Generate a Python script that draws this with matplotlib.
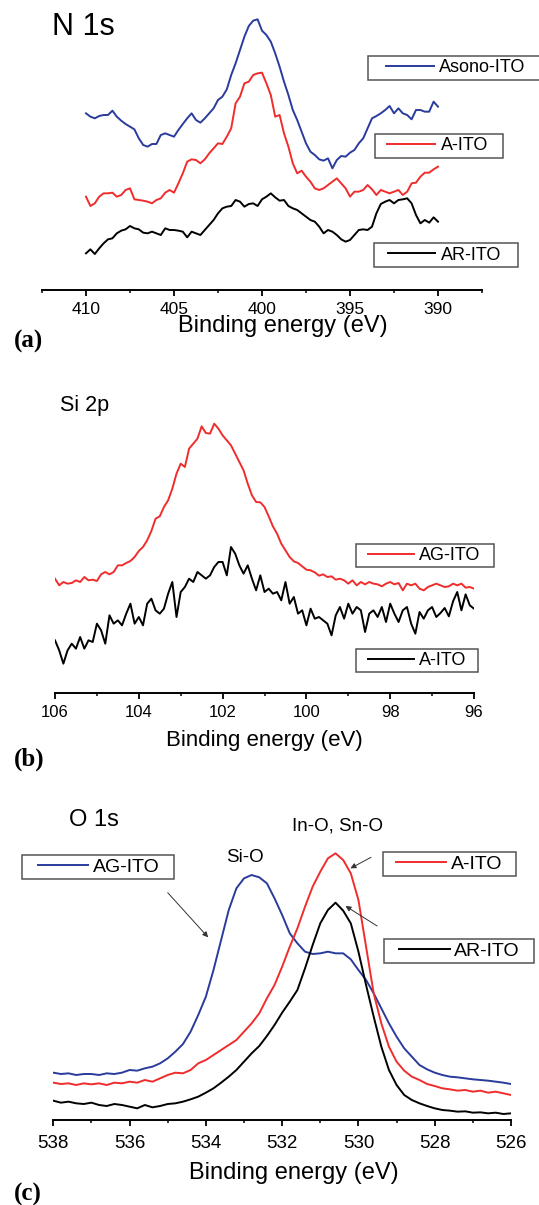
import numpy as np
import matplotlib
matplotlib.use("Agg")
import matplotlib.pyplot as plt
from matplotlib.legend import Legend
from matplotlib.legend_handler import HandlerLine2D

plt.rcParams["font.family"] = ["Liberation Sans", "DejaVu Sans"]

W, H = 539, 1205

# =========================
# Data (XPS intensities, arbitrary units, curves offset as in the figure)
# =========================
n1s_energy = np.linspace(410, 390, 81)
n1s_asono = [530, 520, 515, 522, 525, 525, 538, 520, 508, 498,
             490, 482, 455, 435, 430, 438, 438, 465, 470, 465,
             460, 480, 498, 515, 530, 510, 502, 515, 530, 545,
             570, 580, 602, 645, 680, 720, 760, 792, 808, 812,
             778, 765, 745, 710, 670, 625, 585, 540, 510, 475,
             440, 415, 405, 392, 388, 395, 365, 390, 402, 400,
             412, 420, 440, 455, 485, 515, 522, 530, 540, 552,
             530, 545, 530, 525, 512, 540, 540, 535, 535, 565, 550]
n1s_a = [280, 252, 260, 280, 290, 290, 292, 280, 285, 300,
         305, 272, 270, 268, 265, 260, 270, 275, 292, 300,
         292, 320, 350, 385, 392, 390, 380, 392, 410, 425,
         440, 438, 460, 485, 560, 580, 620, 625, 645, 650,
         652, 620, 585, 520, 525, 470, 430, 380, 350, 358,
         340, 325, 305, 300, 305, 315, 325, 335, 320, 305,
         280, 295, 295, 300, 315, 302, 285, 300, 295, 290,
         295, 300, 285, 295, 320, 322, 340, 352, 352, 362, 370]
n1s_ar = [110, 122, 108, 125, 140, 152, 155, 170, 178, 182,
          192, 185, 182, 172, 170, 175, 170, 165, 185, 180,
          180, 178, 175, 158, 175, 170, 165, 180, 195, 210,
          230, 245, 250, 252, 270, 265, 250, 258, 260, 252,
          272, 280, 290, 278, 268, 270, 252, 245, 240, 230,
          220, 210, 205, 190, 170, 180, 175, 165, 152, 145,
          150, 165, 180, 182, 180, 190, 230, 258, 265, 270,
          260, 270, 272, 275, 260, 225, 200, 210, 202, 218, 205]

si2p_energy = np.linspace(106, 96, 101)
si2p_ag = [343, 323, 333, 328, 330, 338, 333, 348, 338, 340,
           336, 356, 363, 356, 363, 383, 383, 390, 396, 408,
           426, 438, 458, 486, 523, 530, 558, 578, 613, 658,
           688, 678, 733, 748, 763, 800, 780, 778, 808, 793,
           773, 758, 743, 718, 693, 668, 628, 593, 573, 572,
           558, 530, 500, 478, 448, 428, 408, 395, 390, 380,
           370, 368, 362, 352, 356, 348, 350, 340, 343, 338,
           328, 338, 323, 333, 326, 333, 328, 326, 320, 328,
           333, 326, 330, 308, 328, 323, 328, 313, 308, 318,
           323, 328, 323, 318, 320, 328, 323, 328, 316, 318, 313]
si2p_a = [158, 128, 88, 128, 148, 133, 168, 133, 158, 153,
          208, 188, 148, 233, 208, 218, 203, 238, 268, 208,
          228, 203, 268, 283, 248, 238, 253, 298, 333, 228,
          303, 318, 343, 333, 363, 353, 343, 353, 378, 393,
          393, 353, 438, 418, 383, 358, 383, 343, 308, 353,
          303, 313, 298, 303, 278, 333, 268, 288, 238, 248,
          203, 253, 223, 228, 218, 208, 173, 233, 258, 223,
          268, 238, 258, 248, 183, 238, 248, 228, 258, 213,
          268, 238, 213, 248, 258, 208, 178, 243, 223, 248,
          258, 228, 240, 255, 230, 275, 303, 248, 296, 263, 253]

o1s_energy = np.linspace(538, 526, 61)
o1s_ag = [142, 138, 140, 135, 138, 138, 135, 140, 138, 142,
          150, 148, 155, 160, 170, 185, 205, 228, 265, 315,
          370, 450, 540, 630, 695, 725, 735, 728, 710, 665,
          615, 560, 530, 505, 498, 500, 505, 500, 500, 482,
          450, 420, 380, 335, 290, 250, 215, 190, 165, 152,
          142, 135, 130, 128, 125, 122, 120, 118, 115, 112, 108]
o1s_a = [112, 108, 110, 105, 110, 107, 110, 105, 112, 110,
         115, 112, 120, 115, 125, 135, 142, 140, 150, 170,
         180, 195, 210, 225, 240, 265, 290, 320, 365, 405,
         460, 520, 575, 640, 700, 745, 785, 800, 780, 740,
         660, 520, 380, 290, 220, 175, 148, 130, 120, 108,
         102, 95, 92, 88, 90, 85, 88, 82, 85, 80, 75]
o1s_ar = [58, 52, 55, 50, 48, 52, 45, 42, 48, 45,
          40, 35, 45, 38, 42, 48, 50, 55, 62, 70,
          82, 95, 112, 130, 150, 175, 200, 222, 252, 285,
          322, 355, 390, 455, 525, 590, 630, 652, 628, 590,
          505, 405, 310, 220, 150, 105, 75, 60, 50, 42,
          35, 30, 28, 25, 26, 22, 23, 20, 22, 18, 20]

BLUE = "#2a3b9c"
RED = "#f02c2c"
BLACK = "#000000"
LW = 1.4

fig = plt.figure(figsize=(W / 100, H / 100), dpi=100)


def px_axes(left, top, right, bottom):
    return fig.add_axes([left / W, 1 - bottom / H, (right - left) / W, (bottom - top) / H])


def style_axis(ax, xlim, ylim, major, minor, tick_fs, pad):
    ax.set_xlim(*xlim)
    ax.set_ylim(*ylim)
    for s in ["top", "left", "right"]:
        ax.spines[s].set_visible(False)
    ax.spines["bottom"].set_linewidth(1.4)
    ax.set_yticks([])
    ax.set_xticks(major)
    ax.set_xticks(minor, minor=True)
    ax.tick_params(axis="x", which="major", direction="out", length=4, width=1.3,
                   labelsize=tick_fs, pad=pad)
    ax.tick_params(axis="x", which="minor", direction="out", length=2.5, width=1.1)
    ax.patch.set_alpha(0)


def add_key(line, label, box, line_x, text_x, fs):
    # one framed legend entry per series, box given in pixels
    left, top, right, bottom = box
    fpx = fs * 100 / 72
    bp = ((bottom - top) - 1.17 * fpx) / 2 / fpx
    hb_left = left + bp * fpx
    leg = Legend(fig, [line], [label], loc="center",
                 bbox_to_anchor=(left / W, 1 - bottom / H, (right - left) / W, (bottom - top) / H),
                 bbox_transform=fig.transFigure, mode="expand", borderaxespad=0,
                 borderpad=bp, handlelength=(line_x[1] - hb_left) / fpx,
                 handletextpad=(text_x - line_x[1]) / fpx, fontsize=fs,
                 fancybox=False, framealpha=1, edgecolor="#555555",
                 handler_map={line: HandlerLine2D(xpad=(line_x[0] - hb_left) / fpx)})
    leg.get_frame().set_linewidth(1.1)
    fig.add_artist(leg)


# =========================
# (a) N 1s
# =========================
ax1 = px_axes(42, 10, 482, 290)
l_asono, = ax1.plot(n1s_energy, n1s_asono, color=BLUE, lw=LW)
l_a1, = ax1.plot(n1s_energy, n1s_a, color=RED, lw=LW)
l_ar1, = ax1.plot(n1s_energy, n1s_ar, color=BLACK, lw=LW)
style_axis(ax1, (412.5, 387.5), (0, 840), [410, 405, 400, 395, 390],
           [412.5, 407.5, 402.5, 397.5, 392.5, 387.5], 12.5, 4.4)
ax1.set_xlabel("Binding energy (eV)", fontsize=17)
ax1.xaxis.set_label_coords(283 / W, 1 - 315 / H, transform=fig.transFigure)
add_key(l_asono, "Asono-ITO", (368, 54, 560, 82), (385.6, 433.7), 439, 13)
add_key(l_a1, "A-ITO", (374.6, 132, 502.8, 160), (387, 434.7), 441, 13)
add_key(l_ar1, "AR-ITO", (374, 241, 518.3, 269), (387.7, 434.7), 441, 13)
fig.text(51.6 / W, 1 - 35 / H, "N 1s", fontsize=22, va="baseline")

# =========================
# (b) Si 2p
# =========================
ax2 = px_axes(55, 400, 474, 693)
l_ag2, = ax2.plot(si2p_energy, si2p_ag, color=RED, lw=LW)
l_a2, = ax2.plot(si2p_energy, si2p_a, color=BLACK, lw=LW)
style_axis(ax2, (106, 96), (0, 879), [106, 104, 102, 100, 98, 96],
           [105, 103, 101, 99, 97], 12, 4.4)
ax2.set_xlabel("Binding energy (eV)", fontsize=16)
ax2.xaxis.set_label_coords(264 / W, 1 - 730 / H, transform=fig.transFigure)
add_key(l_ag2, "AG-ITO", (355.7, 541.7, 493.9, 569), (368.4, 414.1), 418.6, 13)
add_key(l_a2, "A-ITO", (356.4, 646.7, 477.7, 674), (368.4, 414.1), 418.6, 13)
fig.text(60.1 / W, 1 - 410.7 / H, "Si 2p", fontsize=15.5, va="baseline")

# =========================
# (c) O 1s
# =========================
ax3 = px_axes(53.3, 810, 511, 1120)
l_ag3, = ax3.plot(o1s_energy, o1s_ag, color=BLUE, lw=LW)
l_a3, = ax3.plot(o1s_energy, o1s_a, color=RED, lw=LW)
l_ar3, = ax3.plot(o1s_energy, o1s_ar, color=BLACK, lw=LW)
style_axis(ax3, (538, 526), (0, 930), [538, 536, 534, 532, 530, 528, 526],
           [537, 535, 533, 531, 529, 527], 13.5, 6.6)
ax3.set_xlabel("Binding energy (eV)", fontsize=17)
ax3.xaxis.set_label_coords(294 / W, 1 - 1162 / H, transform=fig.transFigure)
add_key(l_ag3, "AG-ITO", (22.3, 852.3, 173.6, 881.7), (37.8, 87.6), 92.8, 14)
add_key(l_a3, "A-ITO", (382.5, 849.3, 515.5, 878.7), (396.2, 446.1), 451.2, 14)
add_key(l_ar3, "AR-ITO", (383.9, 936, 534.4, 965.7), (398.6, 449.5), 453.6, 14)
fig.text(68.7 / W, 1 - 826 / H, "O 1s", fontsize=17, va="baseline")

ax3.text(532.97, 786, "Si-O", ha="center", va="center", fontsize=13.5)
ax3.text(530.55, 882, "In-O, Sn-O", ha="center", va="center", fontsize=13.5)
arrow = dict(arrowstyle="-|>", color="#333333", lw=0.7, mutation_scale=8,
             shrinkA=0, shrinkB=0)
ax3.annotate("", xy=(533.94, 548), xytext=(535.0, 682), arrowprops=arrow)
ax3.annotate("", xy=(530.21, 755), xytext=(529.67, 788), arrowprops=arrow)
ax3.annotate("", xy=(530.34, 642), xytext=(529.51, 582), arrowprops=arrow)

# panel letters
for label, top in [("(a)", 330), ("(b)", 748), ("(c)", 1183)]:
    fig.text(13.7 / W, 1 - top / H, label, family=["Liberation Serif", "DejaVu Serif"],
             weight="bold", fontsize=18, va="top")

fig.savefig("out.png", dpi=100)
